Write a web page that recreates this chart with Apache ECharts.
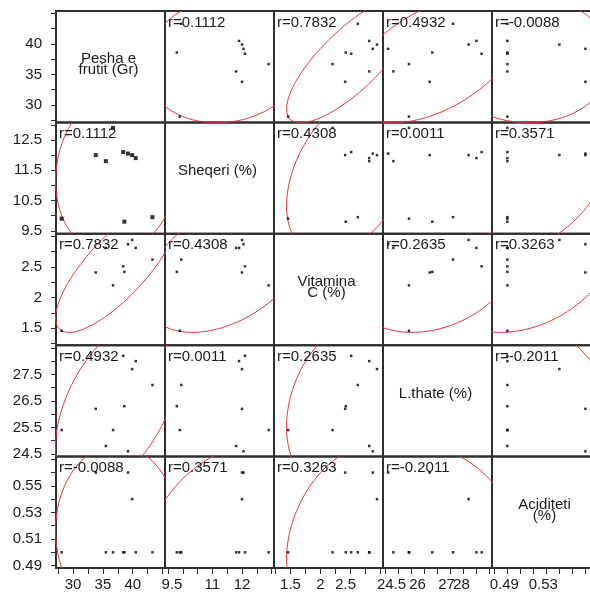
<!DOCTYPE html>
<html>
<head>
<meta charset="utf-8">
<script src="https://cdn.jsdelivr.net/npm/echarts@6/dist/echarts.min.js"></script>
<style>
  html, body { margin: 0; padding: 0; background: #fff; }
  #chart { width: 590px; height: 593px; }
</style>
</head>
<body>
<div id="chart"></div>
<script>
// variable names shown on the diagonal
const varNames = ['Pesha e\nfrutit (Gr)', 'Sheqeri (%)', 'Vitamina\nC (%)', 'L.thate (%)', 'Aciditeti\n(%)'];

const pesha     = [28.1, 33.8, 35.5, 38.4, 39.2, 39.9, 40.5, 38.6, 43.3, 36.7];
const sheqeri   = [9.9, 12.0, 11.8, 12.1, 12.05, 12.0, 11.9, 9.8, 9.95, 12.9];
const vitaminaC = [1.46, 2.41, 2.81, 2.51, 2.87, 2.94, 2.81, 2.42, 2.62, 2.2];
const lThate    = [25.4, 26.2, 24.8, 28.2, 24.6, 27.7, 28.0, 26.3, 27.1, 25.4];
const aciditeti = [0.50, 0.56, 0.50, 0.50, 0.56, 0.54, 0.50, 0.50, 0.50, 0.50];

// correlation labels as printed
const rText = [
  [null, '0.1112', '0.7832', '0.4932', '-0.0088'],
  ['0.1112', null, '0.4308', '0.0011', '0.3571'],
  ['0.7832', '0.4308', null, '0.2635', '0.3263'],
  ['0.4932', '0.0011', '0.2635', null, '-0.2011'],
  ['-0.0088', '0.3571', '0.3263', '-0.2011', null]
];

// axis ranges and ticks
const axisMin = [27.15, 9.4, 1.225, 24.4, 0.4882];
const axisMax = [45.4, 13.08, 3.04, 28.6, 0.572];
const tickValues = [
  [27.5, 30, 32.5, 35, 37.5, 40, 42.5, 45],
  [9.5, 10, 10.5, 11, 11.5, 12, 12.5, 13],
  [1.25, 1.5, 1.75, 2, 2.25, 2.5, 2.75, 3],
  [24.5, 25, 25.5, 26, 26.5, 27, 27.5, 28, 28.5],
  [0.49, 0.5, 0.51, 0.52, 0.53, 0.54, 0.55, 0.56, 0.57]
];
const yLabelValues = [
  [30, 35, 40],
  [9.5, 10.5, 11.5, 12.5],
  [1.5, 2, 2.5],
  [24.5, 25.5, 26.5, 27.5],
  [0.49, 0.51, 0.53, 0.55]
];
const xLabelValues = [
  [30, 35, 40],
  [9.5, 11, 12],
  [1.5, 2, 2.5],
  [24.5, 26, 27, 28],
  [0.49, 0.53]
];

// layout / style
const vars = [pesha, sheqeri, vitaminaC, lThate, aciditeti];
const N = vars.length;
const left0 = 56, top0 = 11, cellW = 109, cellH = 111.4;
const fontFamily = '"Liberation Sans", Arial, sans-serif';
const textColor = '#1a1a1a';
const frameColor = '#2e2e2e';
const ellipseColor = '#e8303c';
// horizontal nudges (px) of the bottom labels, as in the reference
const xLabelShift = [
  [0, 0, 0],
  [4, 0, 0],
  [0, 0, -5],
  [6, -7, -4, -15],
  [10, -3]
];

function ellipse(xs, ys) {
  const n = xs.length;
  const mx = xs.reduce((a, b) => a + b, 0) / n;
  const my = ys.reduce((a, b) => a + b, 0) / n;
  let sxx = 0, syy = 0, sxy = 0;
  for (let k = 0; k < n; k++) {
    sxx += (xs[k] - mx) ** 2;
    syy += (ys[k] - my) ** 2;
    sxy += (xs[k] - mx) * (ys[k] - my);
  }
  const sx = Math.sqrt(sxx / (n - 1)), sy = Math.sqrt(syy / (n - 1));
  const r = sxy / Math.sqrt(sxx * syy);
  const c = Math.sqrt(5.991); // 95% chi-square, 2 df
  const pts = [];
  for (let k = 0; k <= 180; k++) {
    const t = (2 * Math.PI * k) / 180;
    const u = Math.cos(t);
    const w = r * Math.cos(t) + Math.sqrt(1 - r * r) * Math.sin(t);
    pts.push([mx + c * sx * u, my + c * sy * w]);
  }
  return pts;
}

// bottom labels; blank end labels keep echarts from dropping crowded ones
function bottomLabels(col) {
  const rich = {};
  xLabelValues[col].forEach((v, idx) => {
    const s = xLabelShift[col][idx] || 0;
    rich['s' + idx] = {
      fontSize: 15, fontFamily, color: textColor,
      padding: s >= 0 ? [0, 0, 0, 2 * s] : [0, -2 * s, 0, 0]
    };
  });
  return {
    values: [axisMin[col], ...xLabelValues[col], axisMax[col]],
    rich,
    formatter: (v) => {
      const idx = xLabelValues[col].findIndex(x => Math.abs(x - v) < 1e-9);
      return idx >= 0 ? '{s' + idx + '|' + v + '}' : '';
    }
  };
}

const grid = [], xAxis = [], yAxis = [], series = [], graphic = [];

for (let i = 0; i < N; i++) {
  for (let j = 0; j < N; j++) {
    const k = i * N + j;
    const cl = left0 + j * cellW, ct = top0 + i * cellH;
    grid.push({
      left: cl, top: ct, width: cellW, height: cellH,
      show: true, borderColor: frameColor, borderWidth: 2,
      backgroundColor: 'transparent', containLabel: false, outerBoundsMode: 'none'
    });
    const xl = bottomLabels(j);
    xAxis.push({
      gridIndex: k, type: 'value', min: axisMin[j], max: axisMax[j],
      axisLine: { show: false }, splitLine: { show: false },
      axisTick: { show: i === N - 1, customValues: tickValues[j], length: 6, lineStyle: { color: frameColor } },
      axisLabel: {
        show: i === N - 1, customValues: xl.values, margin: 9,
        hideOverlap: false,
        fontSize: 15, fontFamily, color: textColor,
        formatter: xl.formatter, rich: xl.rich
      }
    });
    yAxis.push({
      gridIndex: k, type: 'value', min: axisMin[i], max: axisMax[i],
      axisLine: { show: false }, splitLine: { show: false },
      axisTick: { show: j === 0, customValues: tickValues[i], length: 5, lineStyle: { color: frameColor } },
      axisLabel: {
        show: j === 0, customValues: yLabelValues[i], margin: 14,
        showMinLabel: true, showMaxLabel: true, hideOverlap: false,
        fontSize: 15, fontFamily, color: textColor,
        formatter: (v) => String(v)
      }
    });

    if (i === j) {
      graphic.push({
        type: 'text', x: cl + cellW / 2 - 2, y: ct + cellH / 2 - 13, z: 10,
        style: {
          text: varNames[i], align: 'center', verticalAlign: 'top',
          font: '15px ' + fontFamily, lineHeight: 11, fill: textColor
        }
      });
      continue;
    }

    const xs = vars[j], ys = vars[i];
    series.push({
      type: 'line', xAxisIndex: k, yAxisIndex: k,
      data: ellipse(xs, ys), showSymbol: false, silent: true, clip: true,
      lineStyle: { color: ellipseColor, width: 1 }, animation: false
    });
    series.push({
      type: 'scatter', xAxisIndex: k, yAxisIndex: k,
      data: xs.map((x, n) => [x, ys[n]]),
      symbol: 'rect', symbolSize: (i === 1 && j === 0) ? 4 : 2.5,
      itemStyle: { color: '#000' }, silent: true, animation: false, z: 3
    });
    graphic.push({
      type: 'text', x: cl + 3, y: ct + 4, z: 10,
      style: {
        text: 'r=' + rText[i][j], align: 'left', verticalAlign: 'top',
        font: '15px ' + fontFamily, fill: textColor
      }
    });
  }
}

const chart = echarts.init(document.getElementById('chart'), null, { renderer: 'canvas' });
chart.setOption({
  animation: false,
  backgroundColor: '#fff',
  grid, xAxis, yAxis, series, graphic
});
</script>
</body>
</html>
